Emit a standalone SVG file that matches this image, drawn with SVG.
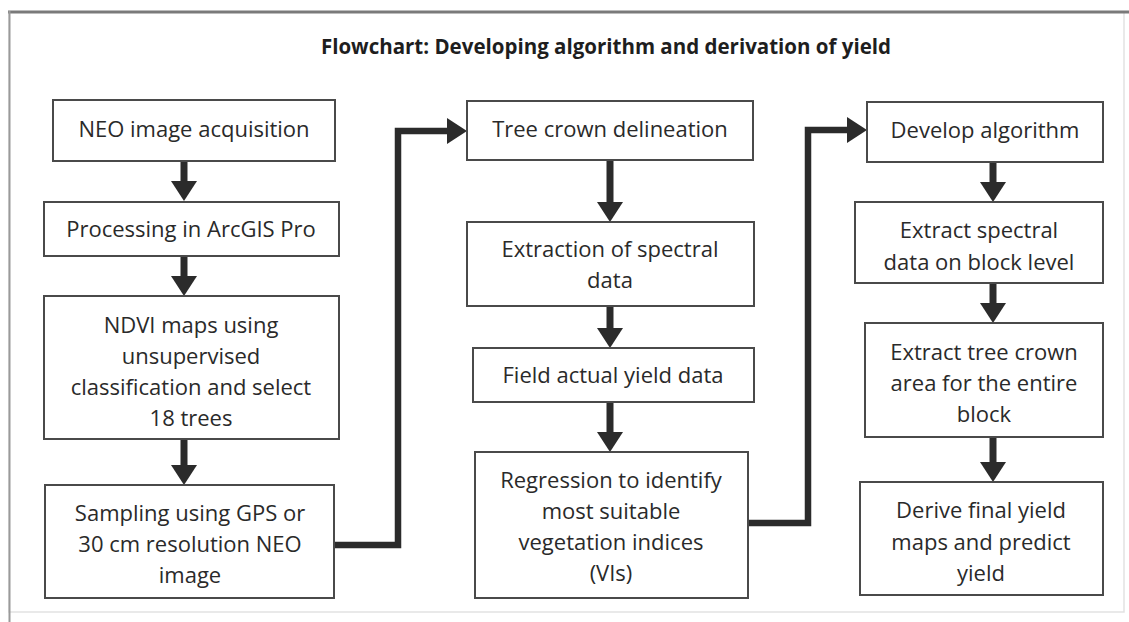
<svg xmlns="http://www.w3.org/2000/svg" width="1129" height="622" viewBox="0 0 1129 622">
<style>
  .box { fill: #ffffff; stroke: #4a4a4a; stroke-width: 2; }
  .lbl { font-family: "Open Sans", "Liberation Sans", sans-serif; font-size: 22px; fill: #2a2a2a; text-anchor: middle; }
  .title { font-family: "Open Sans", "Liberation Sans", sans-serif; font-size: 20.5px; font-weight: bold; fill: #1e1e1e; text-anchor: middle; }
  .arrow { fill: none; stroke: #2b2b2b; stroke-width: 7; marker-end: url(#head); }
  .conn { fill: none; stroke: #2b2b2b; stroke-width: 6.5; stroke-linejoin: miter; marker-end: url(#head); }
</style>
<defs>
  <marker id="head" viewBox="0 0 20 26" refX="10" refY="13" markerWidth="20" markerHeight="26" markerUnits="userSpaceOnUse" orient="auto">
    <path d="M0,0 L20,13 L0,26 Z" fill="#2b2b2b"/>
  </marker>
</defs>
<rect x="0" y="0" width="1129" height="622" fill="#ffffff"/>
<g id="frame">
  <rect x="9" y="12" width="1115" height="600" fill="none" stroke="#e2e2e2" stroke-width="1.5"/>
  <line x1="8" y1="12" x2="1129" y2="12" stroke="#7a7a7a" stroke-width="3"/>
  <line x1="9.5" y1="11" x2="9.5" y2="622" stroke="#9a9a9a" stroke-width="2"/>
</g>
<text id="title" class="title" x="606" y="54">Flowchart: Developing algorithm and derivation of yield</text>

<g id="connectors">
  <line class="arrow" x1="184" y1="161" x2="184" y2="191"/>
  <line class="arrow" x1="184" y1="256" x2="184" y2="286"/>
  <line class="arrow" x1="184" y1="439" x2="184" y2="475"/>
  <line class="arrow" x1="610" y1="160" x2="610" y2="212"/>
  <line class="arrow" x1="610" y1="306" x2="610" y2="338"/>
  <line class="arrow" x1="610" y1="402" x2="610" y2="442"/>
  <line class="arrow" x1="993" y1="162" x2="993" y2="192"/>
  <line class="arrow" x1="993" y1="283" x2="993" y2="313"/>
  <line class="arrow" x1="993" y1="437" x2="993" y2="472"/>
  <path class="conn" d="M334,545 H398 V131 H457"/>
  <path class="conn" d="M748,523 H808 V130 H857"/>
</g>

<g id="n1"><rect class="box" x="53" y="100" width="282" height="61"/>
  <text class="lbl" x="194" y="137">NEO image acquisition</text></g>
<g id="n2"><rect class="box" x="44" y="202" width="295" height="54"/>
  <text class="lbl" x="191" y="237">Processing in ArcGIS Pro</text></g>
<g id="n3"><rect class="box" x="44" y="296" width="295" height="143"/>
  <text class="lbl" x="191" y="333">NDVI maps using</text>
  <text class="lbl" x="191" y="364">unsupervised</text>
  <text class="lbl" x="191" y="395">classification and select</text>
  <text class="lbl" x="191" y="426">18 trees</text></g>
<g id="n4"><rect class="box" x="45" y="485" width="289" height="113"/>
  <text class="lbl" x="190" y="521">Sampling using GPS or</text>
  <text class="lbl" x="190" y="552">30 cm resolution NEO</text>
  <text class="lbl" x="190" y="583">image</text></g>

<g id="n5"><rect class="box" x="467" y="101" width="286" height="59"/>
  <text class="lbl" x="610" y="137">Tree crown delineation</text></g>
<g id="n6"><rect class="box" x="467" y="222" width="287" height="84"/>
  <text class="lbl" x="610" y="257">Extraction of spectral</text>
  <text class="lbl" x="610" y="288">data</text></g>
<g id="n7"><rect class="box" x="473" y="348" width="281" height="54"/>
  <text class="lbl" x="613" y="383">Field actual yield data</text></g>
<g id="n8"><rect class="box" x="475" y="452" width="273" height="146"/>
  <text class="lbl" x="611" y="488">Regression to identify</text>
  <text class="lbl" x="611" y="519">most suitable</text>
  <text class="lbl" x="611" y="550">vegetation indices</text>
  <text class="lbl" x="611" y="581">(VIs)</text></g>

<g id="n9"><rect class="box" x="867" y="102" width="236" height="60"/>
  <text class="lbl" x="985" y="138">Develop algorithm</text></g>
<g id="n10"><rect class="box" x="855" y="202" width="248" height="81"/>
  <text class="lbl" x="979" y="238">Extract spectral</text>
  <text class="lbl" x="979" y="270">data on block level</text></g>
<g id="n11"><rect class="box" x="865" y="323" width="238" height="114"/>
  <text class="lbl" x="984" y="360">Extract tree crown</text>
  <text class="lbl" x="984" y="391">area for the entire</text>
  <text class="lbl" x="984" y="422">block</text></g>
<g id="n12"><rect class="box" x="860" y="482" width="243" height="113"/>
  <text class="lbl" x="981" y="518">Derive final yield</text>
  <text class="lbl" x="981" y="550">maps and predict</text>
  <text class="lbl" x="981" y="581">yield</text></g>
</svg>
